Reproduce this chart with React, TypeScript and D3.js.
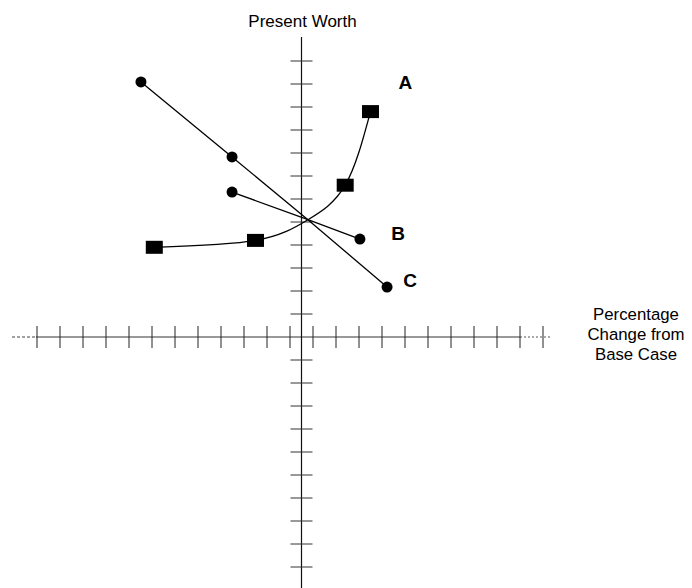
import React from "react";
import * as d3 from "d3";

// Data (units: tick steps relative to the axes crossing)
const baseX = 0.28;
const baseY = 5.1;

const seriesAX = [-6.4, -2.0, baseX, 1.9, 3.0];
const seriesAY = [3.9, 4.2, baseY, 6.6, 9.8];
const seriesAMarked = [true, true, false, true, true];

const seriesBX = [-3.02, baseX, 2.54];
const seriesBY = [6.3, baseY, 4.26];
const seriesBMarked = [true, false, true];

const seriesCX = [-6.98, -3.02, baseX, 3.72];
const seriesCY = [11.09, 7.83, baseY, 2.17];
const seriesCMarked = [true, true, false, true];

const xTicks = d3.range(-11.5, 11, 1);
const yTicks = [...d3.range(-10, 0, 1), ...d3.range(1, 13, 1)];

const labels = ["A", "B", "C"];
const labelX = [4.52, 4.2, 4.72];
const labelY = [10.78, 4.22, 2.17];

const W = 692;
const H = 588;

export default function App() {
  const x = d3.scaleLinear().domain([-12, 12]).range([301.5 - 276, 301.5 + 276]);
  const y = d3.scaleLinear().domain([-11, 13]).range([337 + 253, 337 - 299]);

  const toPts = (xs: number[], ys: number[]) => xs.map((v, i) => [v, ys[i]] as [number, number]);
  const curveLine = d3
    .line<[number, number]>()
    .x((d) => x(d[0]))
    .y((d) => y(d[1]))
    .curve(d3.curveNatural);
  const straight = d3
    .line<[number, number]>()
    .x((d) => x(d[0]))
    .y((d) => y(d[1]));

  const ptsA = toPts(seriesAX, seriesAY);
  const ptsB = toPts(seriesBX, seriesBY);
  const ptsC = toPts(seriesCX, seriesCY);

  const x0 = x(0);
  const y0 = y(0);
  const font = "Liberation Sans, Arial, Helvetica, sans-serif";

  return (
    <svg
      width={W}
      height={H}
      style={{ position: "absolute", left: 0, top: 0, background: "#fff" }}
    >
      <rect width={W} height={H} fill="#fff" />
      {/* horizontal axis */}
      <line x1={12} x2={36} y1={y0} y2={y0} stroke="#444" strokeWidth={1} strokeDasharray="3,2" />
      <line x1={36} x2={520} y1={y0} y2={y0} stroke="#333" strokeWidth={1} />
      <line x1={520} x2={552} y1={y0} y2={y0} stroke="#555" strokeWidth={1} strokeDasharray="2,2" />
      {xTicks.map((t, i) => (
        <line
          key={"xt" + i}
          x1={x(t)}
          x2={x(t)}
          y1={y0 - 11}
          y2={y0 + 11}
          stroke="#222"
          strokeWidth={1}
        />
      ))}
      {/* vertical axis */}
      <line x1={x0} x2={x0} y1={37} y2={588} stroke="#111" strokeWidth={1.2} />
      {yTicks.map((t, i) => (
        <line
          key={"yt" + i}
          x1={x0 - 11}
          x2={x0 + 11}
          y1={y(t)}
          y2={y(t)}
          stroke="#333"
          strokeWidth={1}
        />
      ))}

      {/* series */}
      <path d={curveLine(ptsA) || ""} fill="none" stroke="#000" strokeWidth={1.3} />
      <path d={straight(ptsB) || ""} fill="none" stroke="#000" strokeWidth={1.3} />
      <path d={straight(ptsC) || ""} fill="none" stroke="#000" strokeWidth={1.3} />

      {ptsA.map((p, i) =>
        seriesAMarked[i] ? (
          <rect key={"a" + i} x={x(p[0]) - 8.5} y={y(p[1]) - 6.5} width={17} height={13} fill="#000" />
        ) : null
      )}
      {ptsB.map((p, i) =>
        seriesBMarked[i] ? <circle key={"b" + i} cx={x(p[0])} cy={y(p[1])} r={5.5} fill="#000" /> : null
      )}
      {ptsC.map((p, i) =>
        seriesCMarked[i] ? <circle key={"c" + i} cx={x(p[0])} cy={y(p[1])} r={5.5} fill="#000" /> : null
      )}

      {labels.map((l, i) => (
        <text
          key={"l" + l}
          x={x(labelX[i])}
          y={y(labelY[i])}
          fontFamily={font}
          fontWeight="bold"
          fontSize={19}
          textAnchor="middle"
          fill="#000"
        >
          {l}
        </text>
      ))}

      <text x={302.5} y={27} fontFamily={font} fontSize={17} textAnchor="middle" fill="#000">
        Present Worth
      </text>
      <text fontFamily={font} fontSize={16.8} textAnchor="middle" fill="#000">
        <tspan x={636} y={320}>Percentage</tspan>
        <tspan x={636} y={340}>Change from</tspan>
        <tspan x={636} y={360}>Base Case</tspan>
      </text>
    </svg>
  );
}
